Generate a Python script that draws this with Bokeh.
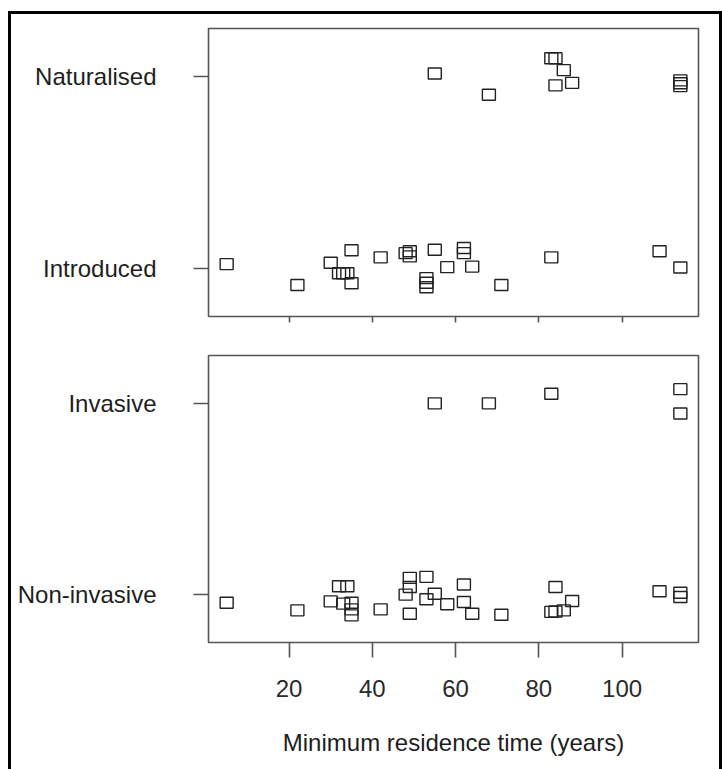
from bokeh.plotting import figure
from bokeh.models import Range1d, FixedTicker, ColumnDataSource
from bokeh.layouts import column
from bokeh.embed import file_html
from bokeh.resources import INLINE

# ---- data ----
top_categories = ["Introduced", "Naturalised"]
bottom_categories = ["Non-invasive", "Invasive"]
x_ticks = [20, 40, 60, 80, 100]

naturalised_x = [55, 68, 83, 84, 86, 84, 88, 114, 114, 114]
naturalised_jit = [0.016, -0.095, 0.095, 0.095, 0.033, -0.046, -0.033, -0.02, -0.035, -0.05]

introduced_x = [5, 22, 30, 32, 33, 34, 35, 35, 42, 48, 49, 49, 55, 58, 53, 53, 53,
                62, 62, 64, 71, 83, 109, 114]
introduced_jit = [0.023, -0.086, 0.03, -0.025, -0.025, -0.025, 0.095, -0.077, 0.058,
                  0.08, 0.09, 0.063, 0.098, 0.007, -0.05, -0.074, -0.098, 0.107, 0.08,
                  0.01, -0.086, 0.058, 0.09, 0.005]

invasive_x = [55, 68, 83, 114, 114]
invasive_jit = [0.0, 0.0, 0.05, 0.074, -0.053]

noninvasive_x = [5, 22, 30, 32, 34, 33, 35, 35, 35, 42, 49, 49, 48, 49, 53, 53, 55, 58,
                 62, 62, 64, 71, 84, 83, 84, 86, 88, 109, 114, 114]
noninvasive_jit = [-0.042, -0.082, -0.035, 0.044, 0.044, -0.047, -0.042, -0.077, -0.108,
                   -0.077, 0.088, 0.04, 0.0, -0.1, 0.093, -0.024, 0.005, -0.05, 0.053,
                   -0.038, -0.1, -0.105, 0.04, -0.09, -0.088, -0.082, -0.033, 0.018,
                   0.01, -0.012]

x_label = "Minimum residence time (years)"

# ---- styling ----
FONT = "Liberation Sans"
TXT = "#1e1e1e"
AX = "#555555"

all_x = naturalised_x + introduced_x + invasive_x + noninvasive_x
lo, hi = min(all_x), max(all_x)
pad = 0.04 * (hi - lo)
x_range = Range1d(lo - pad, hi + pad)


def panel(cats, series, height, b_top, b_bottom, show_x):
    p = figure(width=708, height=height, x_range=x_range, y_range=Range1d(0.75, 2.25),
               output_backend="svg", toolbar_location=None,
               min_border_left=197, min_border_right=21,
               min_border_top=b_top, min_border_bottom=b_bottom)
    p.grid.visible = False
    p.outline_line_color = AX
    p.outline_line_width = 1.6
    p.background_fill_color = "white"
    p.border_fill_color = "white"

    for xs, base, jit in series:
        src = ColumnDataSource(dict(x=xs, y=[base + j for j in jit]))
        p.rect("x", "y", width=13, height=11, width_units="screen", height_units="screen",
               source=src, fill_color=None, line_color="#222222", line_width=1.4)

    ya = p.yaxis[0]
    ya.ticker = FixedTicker(ticks=[1, 2])
    ya.major_label_overrides = {1: cats[0], 2: cats[1]}
    ya.axis_line_color = None
    ya.major_tick_out = 15
    ya.major_tick_in = 0
    ya.major_tick_line_color = AX
    ya.major_tick_line_width = 1.6
    ya.minor_tick_line_color = None
    ya.major_label_standoff = 37
    ya.major_label_text_font = FONT
    ya.major_label_text_font_size = "24px"
    ya.major_label_text_color = TXT

    xa = p.xaxis[0]
    xa.ticker = FixedTicker(ticks=x_ticks)
    xa.axis_line_color = None
    xa.major_tick_in = 0
    xa.major_tick_line_color = AX
    xa.major_tick_line_width = 1.6
    xa.minor_tick_line_color = None
    xa.major_label_text_font = FONT
    if show_x:
        xa.major_tick_out = 15
        xa.major_label_standoff = 22
        xa.major_label_text_font_size = "24px"
        xa.major_label_text_color = "#2a2a2a"
        xa.axis_label = x_label
        xa.axis_label_standoff = 29
        xa.axis_label_text_font = FONT
        xa.axis_label_text_font_size = "24px"
        xa.axis_label_text_font_style = "normal"
        xa.axis_label_text_color = TXT
    else:
        xa.major_tick_out = 6
        xa.major_label_overrides = {t: "" for t in x_ticks}
        xa.major_label_standoff = 0
    return p


top = panel(top_categories,
            [(introduced_x, 1, introduced_jit), (naturalised_x, 2, naturalised_jit)],
            321, 14, 19, False)
bottom = panel(bottom_categories,
               [(noninvasive_x, 1, noninvasive_jit), (invasive_x, 2, invasive_jit)],
               434, 20, 127, True)

layout = column(top, bottom, styles={
    "border-left": "3px solid #000",
    "border-top": "3px solid #000",
    "border-right": "3px solid #000",
    "margin-top": "11px",
    "margin-left": "8px",
})

open("out.html", "w").write(file_html(layout, INLINE))
